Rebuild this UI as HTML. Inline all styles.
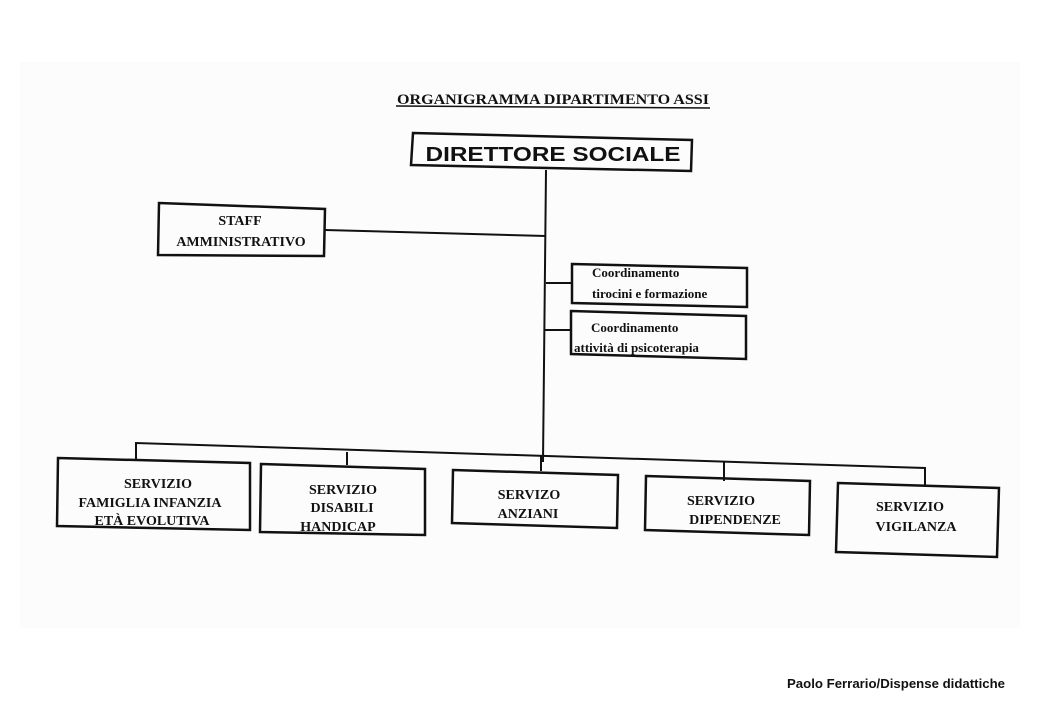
<!DOCTYPE html>
<html><head><meta charset="utf-8"><style>
html,body{margin:0;padding:0;background:#fff;width:1040px;height:720px;overflow:hidden}
svg text{font-family:"Liberation Serif",serif;font-weight:bold;fill:#111}
</style></head><body>
<svg width="1040" height="720" viewBox="0 0 1040 720" xmlns="http://www.w3.org/2000/svg">
<rect x="20" y="62" width="1000" height="566" fill="#fcfcfc"/>
<text x="553" y="104" text-anchor="middle" font-size="15" textLength="312" lengthAdjust="spacingAndGlyphs">ORGANIGRAMMA DIPARTIMENTO ASSI</text>
<line x1="396" y1="106" x2="710" y2="108" stroke="#111" stroke-width="1.5"/>
<g fill="none" stroke="#111" stroke-width="2.5">
<polygon points="413,133 692,140 691,171 411,165"/>
<polygon points="159,203 325,209 324,256 158,255"/>
<polygon points="572,264 747,268 747,307 572,303"/>
<polygon points="571,311 746,316 746,359 571,354"/>
<polygon points="58,458 250,463 250,530 57,526"/>
<polygon points="261,464 425,469 425,535 260,532"/>
<polygon points="453,470 618,475 617,528 452,523"/>
<polygon points="646,476 810,481 809,535 645,530"/>
<polygon points="838,483 999,488 997,557 836,552"/>
</g>
<g stroke="#111" stroke-width="2">
<line x1="546" y1="170" x2="543" y2="462"/>
<line x1="325" y1="230" x2="546" y2="236"/>
<line x1="546" y1="283" x2="572" y2="283"/>
<line x1="545" y1="330" x2="571" y2="330"/>
<polyline fill="none" points="136,460 136,443 925,468 925,485"/>
<line x1="347" y1="452" x2="347" y2="465"/>
<line x1="541" y1="455" x2="541" y2="471"/>
<line x1="724" y1="461" x2="724" y2="481"/>
</g>
<text x="553" y="161" text-anchor="middle" font-size="20" textLength="255" lengthAdjust="spacingAndGlyphs" style="font-family:'Liberation Sans',sans-serif">DIRETTORE SOCIALE</text>
<g font-size="14" text-anchor="middle">
<text x="240" y="225">STAFF</text>
<text x="241" y="246">AMMINISTRATIVO</text>
</g>
<g font-size="13">
<text x="592" y="277">Coordinamento</text>
<text x="592" y="298">tirocini e formazione</text>
<text x="591" y="332">Coordinamento</text>
<text x="574" y="352">attività di psicoterapia</text>
</g>
<g font-size="14" text-anchor="middle">
<text x="158" y="488">SERVIZIO</text>
<text x="150" y="507">FAMIGLIA INFANZIA</text>
<text x="152" y="525">ETÀ EVOLUTIVA</text>
<text x="343" y="494">SERVIZIO</text>
<text x="342" y="512">DISABILI</text>
<text x="338" y="531">HANDICAP</text>
<text x="529" y="499">SERVIZO</text>
<text x="528" y="518">ANZIANI</text>
<text x="721" y="505">SERVIZIO</text>
<text x="735" y="524">DIPENDENZE</text>
<text x="910" y="511">SERVIZIO</text>
<text x="916" y="531">VIGILANZA</text>
</g>
<text x="787" y="688" font-size="12.5" textLength="218" lengthAdjust="spacingAndGlyphs" style="font-family:'Liberation Sans',sans-serif">Paolo Ferrario/Dispense didattiche</text>
</svg>
</body></html>
